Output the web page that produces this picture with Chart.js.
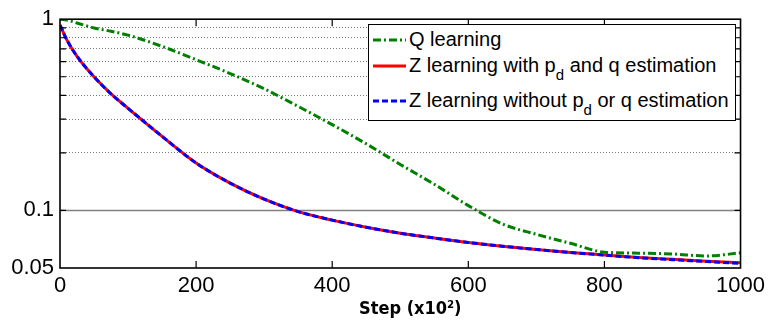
<!DOCTYPE html>
<html>
<head>
<meta charset="utf-8">
<script src="https://cdn.jsdelivr.net/npm/chart.js@4.4.0/dist/chart.umd.min.js"></script>
<style>
  html, body { margin: 0; padding: 0; background: #fff; }
  #wrap { position: relative; width: 770px; height: 321px; }
  #legend {
    position: absolute; left: 368px; top: 24px; width: 368px; height: 97px;
    border: 1px solid #000; background: #fff; box-sizing: border-box;
    font: 20px "Liberation Sans", Arial, sans-serif; color: #000;
  }
  #legend .row { position: absolute; left: 4px; height: 24px; line-height: 24px; white-space: nowrap; }
  #legend svg { position: absolute; left: 0; top: 10px; }
  #legend .txt { position: absolute; left: 36px; top: 0; }
  #legend sub { font-size: 15px; vertical-align: -8px; line-height: 0; }
</style>
</head>
<body>
<div id="wrap">
  <canvas id="chart" width="770" height="321"></canvas>
  <div id="legend">
    <div class="row" style="top:2px">
      <svg width="34" height="6"><line x1="0" y1="3" x2="33" y2="3" stroke="rgb(0,128,0)" stroke-width="3" stroke-dasharray="8,3,2,3"/></svg>
      <span class="txt">Q learning</span>
    </div>
    <div class="row" style="top:28px">
      <svg width="34" height="6"><line x1="0" y1="3" x2="33" y2="3" stroke="rgb(255,0,0)" stroke-width="3"/></svg>
      <span class="txt">Z learning with p<sub>d</sub> and q estimation</span>
    </div>
    <div class="row" style="top:63px">
      <svg width="34" height="6"><line x1="0" y1="3" x2="33" y2="3" stroke="rgb(0,0,255)" stroke-width="3" stroke-dasharray="6,3"/></svg>
      <span class="txt">Z learning without p<sub>d</sub> or q estimation</span>
    </div>
  </div>
</div>
<script>
// values (step in units of 10^2)
var steps = [0, 10, 25, 50, 75, 100, 150, 200, 250, 300, 350, 400, 450, 500,
             550, 600, 650, 700, 750, 800, 850, 900, 950, 1000];
var qLearning = [1.0, 0.99, 0.955, 0.90, 0.865, 0.825, 0.721, 0.614, 0.52, 0.433, 0.35, 0.281, 0.223, 0.174,
                 0.137, 0.106, 0.085, 0.075, 0.0673, 0.0605, 0.0598, 0.0592, 0.0578, 0.060];
var zWithEst = [0.93, 0.78, 0.64, 0.50, 0.407, 0.342, 0.244, 0.177, 0.139, 0.1146, 0.0986, 0.089, 0.0817, 0.076,
                0.0718, 0.068, 0.065, 0.0625, 0.0603, 0.0585, 0.0568, 0.0555, 0.0543, 0.0533];
var zWithoutEst = [0.93, 0.78, 0.64, 0.50, 0.407, 0.342, 0.244, 0.177, 0.139, 0.1146, 0.0986, 0.089, 0.0817, 0.076,
                   0.0718, 0.068, 0.065, 0.0625, 0.0603, 0.0584, 0.0566, 0.0553, 0.054, 0.0529];
var xTicks = [0, 200, 400, 600, 800, 1000];
var yTicks = [0.05, 0.1, 0.2, 0.3, 0.4, 0.5, 0.6, 0.7, 0.8, 0.9, 1];
var yLabels = [0.05, 0.1, 1];

function points(vals) {
    return steps.map(function(s, i) { return { x: s, y: vals[i] }; });
}

// solid line at 0.1, inward ticks, the box round the plot and the x title
var framePlugin = {
    id: 'frame',
    beforeDatasetsDraw: function(chart) {
        var ctx = chart.ctx, a = chart.chartArea;
        var py = chart.scales.y.getPixelForValue(0.1);
        ctx.save();
        ctx.strokeStyle = '#808080';
        ctx.lineWidth = 1.5;
        ctx.beginPath();
        ctx.moveTo(a.left, py);
        ctx.lineTo(a.right, py);
        ctx.stroke();
        ctx.restore();
    },
    afterDatasetsDraw: function(chart) {
        var ctx = chart.ctx, a = chart.chartArea;
        var xs = chart.scales.x, ys = chart.scales.y;
        ctx.save();
        ctx.strokeStyle = '#000';
        ctx.lineWidth = 1.2;
        ctx.beginPath();
        xTicks.slice(1, -1).forEach(function(v) {
            var px = xs.getPixelForValue(v);
            ctx.moveTo(px, a.bottom); ctx.lineTo(px, a.bottom - 7);
            ctx.moveTo(px, a.top); ctx.lineTo(px, a.top + 7);
        });
        yTicks.slice(1, -1).forEach(function(v) {
            var py = ys.getPixelForValue(v);
            ctx.moveTo(a.left, py); ctx.lineTo(a.left + 6, py);
            ctx.moveTo(a.right, py); ctx.lineTo(a.right - 6, py);
        });
        ctx.stroke();
        ctx.lineWidth = 1.6;
        ctx.strokeRect(a.left, a.top, a.right - a.left, a.bottom - a.top);

        // axis title, a little right of centre as in the figure
        ctx.fillStyle = '#000';
        ctx.font = 'bold 18px "DejaVu Sans Condensed", "DejaVu Sans", sans-serif';
        ctx.textAlign = 'center';
        ctx.textBaseline = 'middle';
        ctx.fillText('Step (x10\u00b2)', (a.left + a.right) / 2 + 10, 309);
        ctx.restore();
    }
};

var ctx = document.getElementById('chart').getContext('2d');
var chart = new Chart(ctx, {
    type: 'line',
    data: {
        datasets: [
            {
                label: 'Q learning',
                data: points(qLearning),
                borderColor: 'rgb(0, 128, 0)',
                borderWidth: 3,
                borderDash: [8, 3, 2, 3],
                pointRadius: 0,
                order: 0,
                cubicInterpolationMode: 'monotone'
            },
            {
                label: 'Z learning with pd and q estimation',
                data: points(zWithEst),
                borderColor: 'rgb(255, 0, 0)',
                borderWidth: 3,
                pointRadius: 0,
                order: 2,
                cubicInterpolationMode: 'monotone'
            },
            {
                label: 'Z learning without pd or q estimation',
                data: points(zWithoutEst),
                borderColor: 'rgb(0, 0, 255)',
                borderWidth: 3,
                borderDash: [6, 3],
                pointRadius: 0,
                order: 1,
                cubicInterpolationMode: 'monotone'
            }
        ]
    },
    options: {
        responsive: false,
        animation: false,
        layout: { padding: { top: 16, right: 29, left: 0, bottom: 0 } },
        plugins: {
            legend: { display: false },
            tooltip: { enabled: false }
        },
        scales: {
            x: {
                type: 'linear',
                min: 0,
                max: 1000,
                afterBuildTicks: function(scale) {
                    scale.ticks = xTicks.map(function(v) { return { value: v }; });
                },
                afterFit: function(scale) { scale.height = 53; },
                grid: { display: false, drawTicks: false },
                border: { display: false },
                ticks: {
                    color: '#000',
                    padding: 5,
                    maxRotation: 0,
                    autoSkip: false,
                    font: { family: 'Liberation Sans', size: 22 },
                    callback: function(v) { return String(v); }
                }
            },
            y: {
                type: 'logarithmic',
                min: 0.05,
                max: 1,
                afterBuildTicks: function(scale) {
                    scale.ticks = yTicks.map(function(v) { return { value: v }; });
                },
                afterFit: function(scale) { scale.width = 60; },
                grid: {
                    drawTicks: false,
                    lineWidth: 1,
                    color: function(c) {
                        var v = c.tick ? c.tick.value : 0;
                        return (v > 0.15 && v < 0.95) ? '#777' : 'rgba(0,0,0,0)';
                    }
                },
                border: { display: false, dash: [1, 2] },
                ticks: {
                    color: '#000',
                    padding: 6,
                    autoSkip: false,
                    font: { family: 'Liberation Sans', size: 22 },
                    callback: function(v) {
                        return yLabels.indexOf(v) >= 0 ? String(v) : '';
                    }
                }
            }
        }
    },
    plugins: [framePlugin]
});
</script>
</body>
</html>
